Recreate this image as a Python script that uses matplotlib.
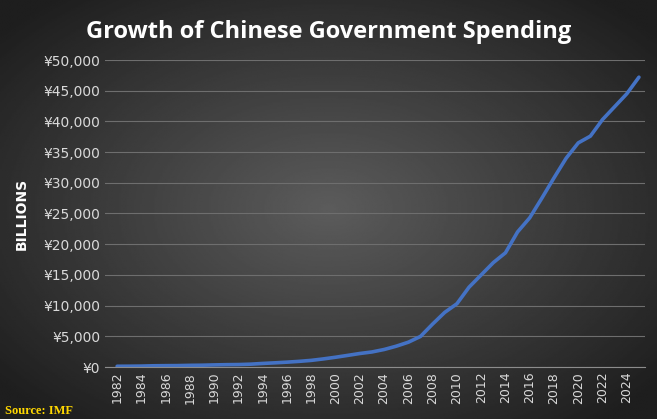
import numpy as np
import matplotlib
matplotlib.use("Agg")
import matplotlib.pyplot as plt
from matplotlib.ticker import FuncFormatter

years = list(range(1982, 2026))
spending = [120, 130, 150, 200, 220, 230, 270, 290, 340, 380, 400, 460, 580, 680, 790, 920, 1080, 1320, 1590, 1890, 2200, 2450, 2850, 3390, 4040, 4980,
            7000, 8900, 10300, 13000, 15000, 17000, 18600, 22000, 24300, 27500, 30800, 34000, 36500, 37600, 40300, 42400, 44500, 47200]
xticks = list(range(1982, 2025, 2))
yticks = list(range(0, 50001, 5000))

fig = plt.figure(figsize=(6.57, 4.19), dpi=100)
# radial gradient background
bg = fig.add_axes([0, 0, 1, 1])
yy, xx = np.mgrid[-1:1:300j, -1:1:400j]
r = np.sqrt(xx**2 + yy**2)
shade = 0.36 - 0.24 * np.clip(r / 1.3, 0, 1)
bg.imshow(shade, cmap="gray", vmin=0, vmax=1, aspect="auto", extent=[0, 1, 0, 1])
bg.axis("off")

ax = fig.add_axes([105 / 657, 52 / 419, 540 / 657, 307 / 419])
ax.patch.set_alpha(0)
ax.plot(years, spending, color="#4472C4", lw=2.6, solid_capstyle="round")
ax.set_xlim(1981.0, 2025.5)
ax.set_ylim(0, 50000)
ax.set_xticks(xticks)
ax.set_yticks(yticks)
ax.yaxis.set_major_formatter(FuncFormatter(lambda v, p: f"¥{int(v):,}"))
ax.tick_params(axis="x", rotation=90, colors="#d9d9d9", labelsize=9, length=0)
ax.tick_params(axis="y", colors="#d9d9d9", labelsize=10, length=0)
ax.grid(axis="y", color="#6e6e6e", lw=0.8)
for s in ax.spines.values():
    s.set_visible(False)
ax.spines["bottom"].set_visible(True)
ax.spines["bottom"].set_color("#8c8c8c")
ax.set_ylabel("BILLIONS", color="white", fontsize=10, fontweight="bold", labelpad=10)

fig.text(0.5, 0.91, "Growth of Chinese Government Spending", ha="center", color="white",
         fontsize=17, fontweight="bold", family="Open Sans")
fig.text(0.008, 0.012, "Source: IMF", color="#ffd700", fontsize=9, fontweight="bold", family="Liberation Serif")

fig.savefig("out.png", dpi=100)
